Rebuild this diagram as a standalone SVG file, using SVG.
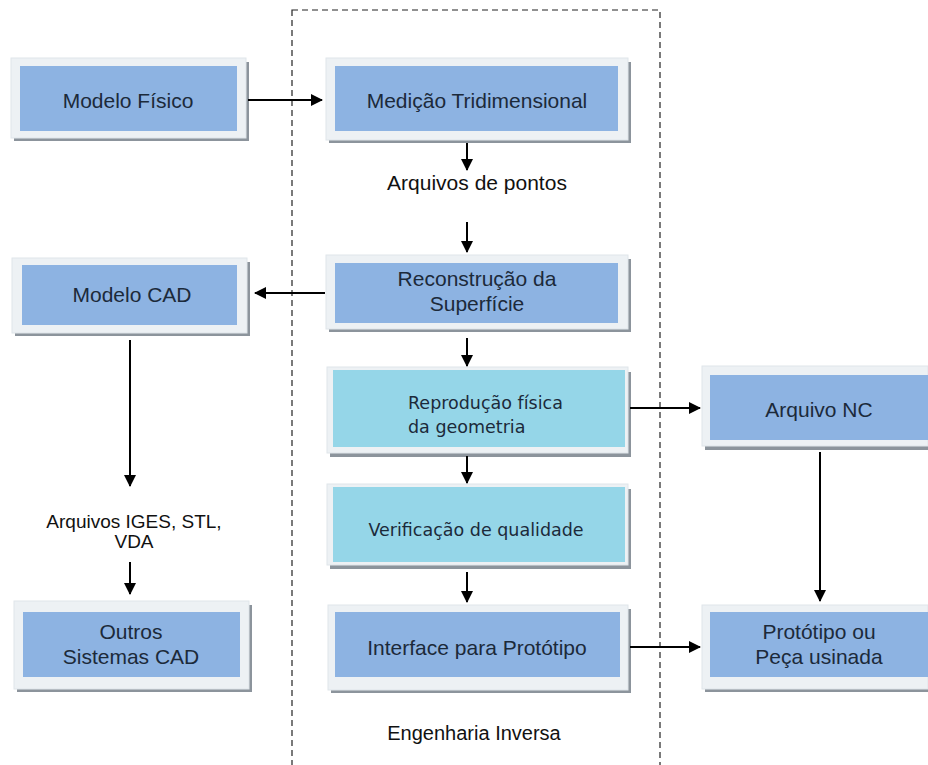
<svg xmlns="http://www.w3.org/2000/svg" width="928" height="765" viewBox="0 0 928 765">
<defs>
<marker id="ah" markerWidth="12" markerHeight="12" refX="11" refY="6" orient="auto" markerUnits="userSpaceOnUse">
<path d="M0,0 L12,6 L0,12 Z" fill="#000"/>
</marker>
</defs>
<style>
.sh{fill:#8c949c}
.fr{fill:#edf1f4;stroke:#dfe5ea;stroke-width:1}
.bl{fill:#8db3e2}
.cy{fill:#95d6e8}
.t{font-family:"Liberation Sans",Arial,sans-serif;font-size:21px;fill:#1c2a3a;text-anchor:middle}
.tv{font-family:"DejaVu Sans",Verdana,sans-serif;font-size:17.5px;fill:#1c2a3a}
.lb{font-family:"Liberation Sans",Arial,sans-serif;font-size:21px;fill:#111;text-anchor:middle}
.c{stroke:#000;stroke-width:2;fill:none;marker-end:url(#ah)}
</style>
<rect width="928" height="765" fill="#fff"/>
<rect id="engenharia-inversa-box" x="292" y="10" width="368" height="770" fill="none" stroke="#222" stroke-width="1.2" stroke-dasharray="6,4"/>

<g id="modelo-fisico">
<rect class="sh" x="14" y="62" width="235" height="79"/>
<rect class="fr" x="11" y="58" width="235" height="80"/>
<rect class="bl" x="20" y="66" width="217" height="65"/>
<text class="t" x="128" y="108">Modelo Físico</text>
</g>
<g id="medicao">
<rect class="sh" x="329" y="62" width="302" height="81"/>
<rect class="fr" x="326" y="58" width="302" height="82"/>
<rect class="bl" x="335" y="66" width="283" height="65"/>
<text class="t" x="477" y="108">Medição Tridimensional</text>
</g>
<g id="arquivos-pontos">
<text class="lb" x="477" y="190">Arquivos de pontos</text>
</g>
<g id="reconstrucao">
<rect class="sh" x="329" y="259" width="302" height="73"/>
<rect class="fr" x="326" y="255" width="302" height="74"/>
<rect class="bl" x="335" y="263" width="283" height="60"/>
<text class="t" x="477" y="286">Reconstrução da</text>
<text class="t" x="477" y="311">Superfície</text>
</g>
<g id="modelo-cad">
<rect class="sh" x="15" y="262" width="235" height="74"/>
<rect class="fr" x="12" y="258" width="235" height="75"/>
<rect class="bl" x="22" y="265" width="215" height="60"/>
<text class="t" x="132" y="302">Modelo CAD</text>
</g>
<g id="reproducao">
<rect class="sh" x="330" y="372" width="301" height="85"/>
<rect class="fr" x="327" y="367" width="301" height="86"/>
<rect class="cy" x="333" y="370" width="292" height="77"/>
<text class="tv" x="408" y="409">Reprodução física</text>
<text class="tv" x="408" y="433">da geometria</text>
</g>
<g id="arquivo-nc">
<rect class="sh" x="705" y="370" width="226" height="80"/>
<rect class="fr" x="702" y="366" width="226" height="80"/>
<rect class="bl" x="710" y="375" width="218" height="65"/>
<text class="t" x="819" y="417">Arquivo NC</text>
</g>
<g id="verificacao">
<rect class="sh" x="330" y="489" width="301" height="80"/>
<rect class="fr" x="327" y="484" width="301" height="81"/>
<rect class="cy" x="333" y="487" width="292" height="75"/>
<text class="tv" x="476" y="536" text-anchor="middle">Verificação de qualidade</text>
</g>
<g id="arquivos-iges">
<text class="lb" x="134" y="528" style="font-size:19px">Arquivos IGES, STL,</text>
<text class="lb" x="134" y="548" style="font-size:19px">VDA</text>
</g>
<g id="outros-cad">
<rect class="sh" x="17" y="605" width="235" height="87"/>
<rect class="fr" x="14" y="601" width="235" height="88"/>
<rect class="bl" x="23" y="612" width="217" height="65"/>
<text class="t" x="131" y="639">Outros</text>
<text class="t" x="131" y="664">Sistemas CAD</text>
</g>
<g id="interface">
<rect class="sh" x="331" y="609" width="300" height="84"/>
<rect class="fr" x="328" y="605" width="300" height="85"/>
<rect class="bl" x="335" y="612" width="285" height="65"/>
<text class="t" x="477" y="655">Interface para Protótipo</text>
</g>
<g id="prototipo">
<rect class="sh" x="705" y="609" width="226" height="83"/>
<rect class="fr" x="702" y="605" width="226" height="84"/>
<rect class="bl" x="710" y="612" width="218" height="65"/>
<text class="t" x="819" y="639">Protótipo ou</text>
<text class="t" x="819" y="664">Peça usinada</text>
</g>
<g id="engenharia-label">
<text class="lb" x="474" y="740" style="font-size:20px">Engenharia Inversa</text>
</g>

<g id="connectors">
<path class="c" d="M248,100 L322,100"/>
<path class="c" d="M467,143 L467,170"/>
<path class="c" d="M467,222 L467,252"/>
<path class="c" d="M325,293 L255,293"/>
<path class="c" d="M467,338 L467,366"/>
<path class="c" d="M630,408 L700,408"/>
<path class="c" d="M467,456 L467,483"/>
<path class="c" d="M467,572 L467,602"/>
<path class="c" d="M630,647 L700,647"/>
<path class="c" d="M820,452 L820,601"/>
<path class="c" d="M130,340 L130,486"/>
<path class="c" d="M130,562 L130,594"/>
</g>
</svg>
